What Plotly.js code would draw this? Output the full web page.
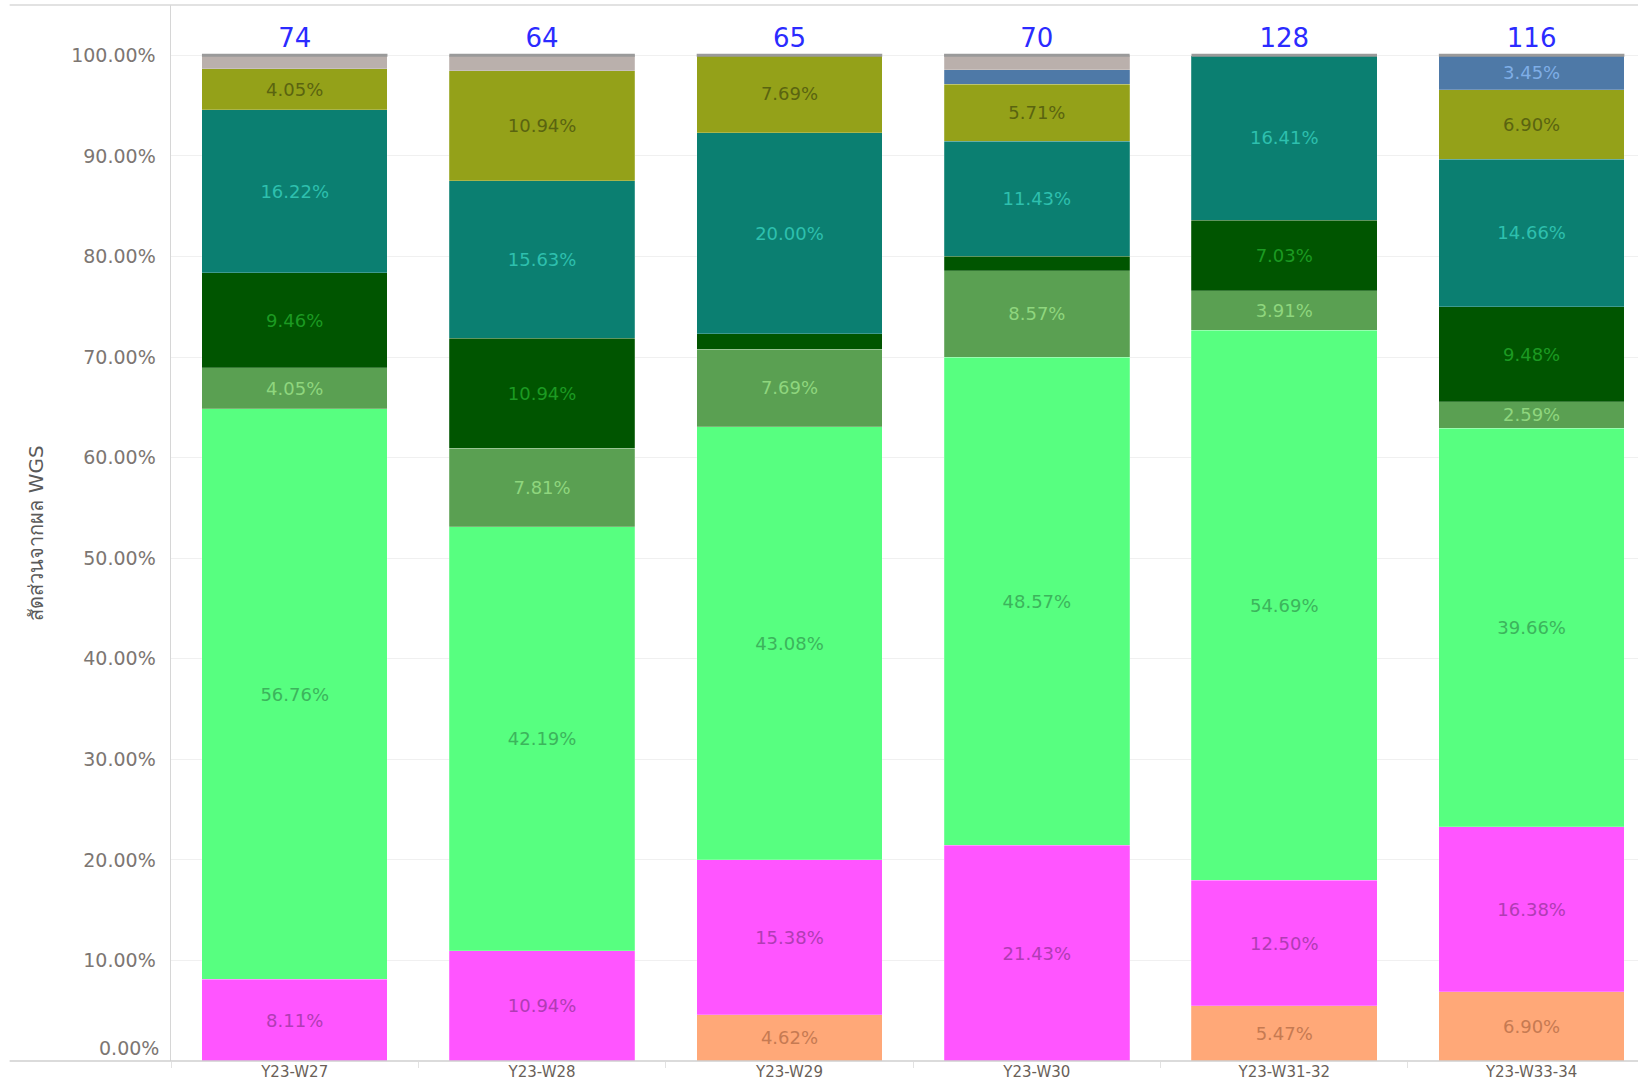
<!DOCTYPE html>
<html>
<head>
<meta charset="utf-8">
<script src="https://cdn.plot.ly/plotly-3.0.1.min.js"></script>
<style>
  html, body { margin: 0; padding: 0; background: #fff; }
  #chart { width: 1638px; height: 1081px; }
</style>
</head>
<body>
<div id="chart"></div>
<script>
// Weekly share of WGS results by lineage group (percent of sequenced samples)
const weeks = ['Y23-W27', 'Y23-W28', 'Y23-W29', 'Y23-W30', 'Y23-W31-32', 'Y23-W33-34'];
const sampleCounts = [74, 64, 65, 70, 128, 116];
const yTicks = [10, 20, 30, 40, 50, 60, 70, 80, 90, 100];
const baseTick = 0;

// Stacked segments, bottom to top
const orangeShare    = [0, 0, 4.62, 0, 5.47, 6.90];
const magentaShare   = [8.11, 10.94, 15.38, 21.43, 12.50, 16.38];
const brightGreenShare = [56.76, 42.19, 43.08, 48.57, 54.69, 39.66];
const midGreenShare  = [4.05, 7.81, 7.69, 8.57, 3.91, 2.59];
const darkGreenShare = [9.46, 10.94, 1.54, 1.43, 7.03, 9.48];
const tealShare      = [16.22, 15.63, 20.00, 11.43, 16.41, 14.66];
const oliveShare     = [4.05, 10.94, 7.69, 5.71, 0, 6.90];
const steelShare     = [0, 0, 0, 1.43, 0, 3.45];
const greyShare      = [1.35, 1.56, 0, 1.43, 0, 0];

const FONT = 'DejaVu Sans, Noto Sans, sans-serif';
const fmtPct = v => v.toFixed(2) + '%';

const groups = [
  { name: 'orange',      values: orangeShare,      fill: '#FFA878', label: '#C67A52' },
  { name: 'magenta',     values: magentaShare,     fill: '#FF55FF', label: '#B03CB4' },
  { name: 'bright green', values: brightGreenShare, fill: '#57FF80', label: '#3CB45C' },
  { name: 'mid green',   values: midGreenShare,    fill: '#5AA052', label: '#8FD67E' },
  { name: 'dark green',  values: darkGreenShare,   fill: '#005500', label: '#1C9A22' },
  { name: 'teal',        values: tealShare,        fill: '#0B7F71', label: '#2EC0AE' },
  { name: 'olive',       values: oliveShare,       fill: '#94A119', label: '#5A6410' },
  { name: 'steel blue',  values: steelShare,       fill: '#4E79A7', label: '#7FAEE6' },
  { name: 'grey',        values: greyShare,        fill: '#BAB0AC', label: '#7C7370' }
];

const traces = groups.map(g => ({
  type: 'bar',
  name: g.name,
  x: weeks,
  y: g.values,
  text: g.values.map(v => v >= 2 ? fmtPct(v) : ''),
  textposition: 'inside',
  insidetextanchor: 'middle',
  textangle: 0,
  constraintext: 'none',
  textfont: { family: FONT, size: 18, color: g.label },
  marker: { color: g.fill, line: { width: 0.6, color: 'rgba(255,255,255,0.35)' } },
  hoverinfo: 'skip'
}));

// Sample count above each bar
traces.push({
  type: 'scatter',
  mode: 'text',
  x: weeks,
  y: weeks.map(() => 101.5),
  text: sampleCounts.map(String),
  textposition: 'middle center',
  textfont: { family: FONT, size: 26, color: '#2B2BFF' },
  hoverinfo: 'skip',
  showlegend: false,
  cliponaxis: false
});

// Grey cap at the 100% line of each bar
const capShapes = weeks.map((w, i) => ({
  type: 'line', xref: 'x', yref: 'y',
  x0: i - 0.375, x1: i + 0.375, y0: 100, y1: 100,
  line: { color: '#9A9A9A', width: 3 },
  layer: 'above'
}));

const frameShapes = [
  { type: 'line', xref: 'paper', yref: 'paper', x0: -0.11, x1: 1, y0: 1, y1: 1,
    line: { color: '#D9D9D9', width: 1.5 } },
  { type: 'line', xref: 'paper', yref: 'paper', x0: -0.11, x1: 1, y0: 0, y1: 0,
    line: { color: '#CFCFCF', width: 1.5 } }
];

const layout = {
  width: 1638,
  height: 1081,
  margin: { l: 171, r: 0, t: 5, b: 20 },
  paper_bgcolor: '#FFFFFF',
  plot_bgcolor: '#FFFFFF',
  barmode: 'stack',
  bargap: 0.25,
  showlegend: false,
  font: { family: FONT },
  xaxis: {
    type: 'category',
    range: [-0.5, 5.43],
    showgrid: false,
    zeroline: false,
    showline: false,
    ticks: 'outside',
    tickson: 'boundaries',
    ticklen: 6,
    tickcolor: '#E2E2E2',
    ticklabelstandoff: 0,
    tickfont: { family: FONT, size: 15, color: '#6A5F58' },
    fixedrange: true
  },
  yaxis: {
    range: [0, 105],
    tickvals: yTicks,
    ticktext: yTicks.map(fmtPct),
    tickfont: { family: FONT, size: 19, color: '#7C7672' },
    ticklabelstandoff: 10,
    showgrid: true,
    gridcolor: '#F0F0F0',
    gridwidth: 1,
    zeroline: false,
    showline: true,
    linecolor: '#D6D6D6',
    linewidth: 1.5,
    title: {
      text: 'สัดส่วนจากผล WGS',
      font: { family: FONT, size: 20, color: '#5A5A5A' },
      standoff: 22
    },
    fixedrange: true
  },
  // Base tick label sits just above the floor line
  annotations: [{
    xref: 'paper', yref: 'y', x: 0, y: baseTick,
    xanchor: 'right', yanchor: 'middle',
    xshift: -10, yshift: 13,
    text: fmtPct(baseTick), showarrow: false,
    font: { family: FONT, size: 19, color: '#7C7672' }
  }],
  shapes: capShapes.concat(frameShapes)
};

Plotly.newPlot('chart', traces, layout, { displayModeBar: false, staticPlot: true });
</script>
</body>
</html>
